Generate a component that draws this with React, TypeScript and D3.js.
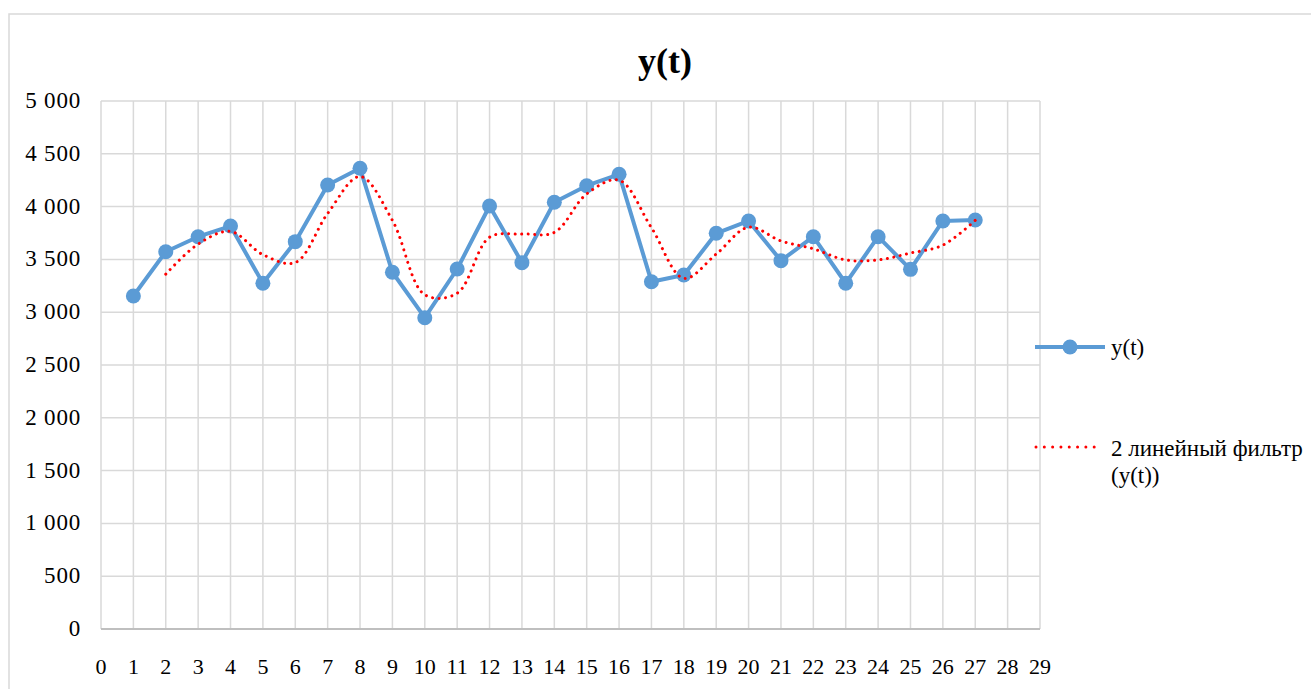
import React from "react";
import * as d3 from "d3";

const tValues: number[] = [1, 2, 3, 4, 5, 6, 7, 8, 9, 10, 11, 12, 13, 14, 15, 16, 17, 18, 19, 20, 21, 22, 23, 24, 25, 26, 27];
const yValues: number[] = [3153, 3573, 3715, 3816, 3274, 3668, 4205, 4363, 3378, 2948, 3409, 4006, 3469, 4041, 4198, 4306, 3289, 3352, 3747, 3864, 3488, 3715, 3274, 3715, 3406, 3864, 3873];
const filterT: number[] = [2, 3, 4, 5, 6, 7, 8, 9, 10, 11, 12, 13, 14, 15, 16, 17, 18, 19, 20, 21, 22, 23, 24, 25, 26, 27];
const filterValues: number[] = [3360, 3645, 3765, 3545, 3470, 3935, 4285, 3870, 3165, 3180, 3710, 3740, 3755, 4120, 4250, 3800, 3320, 3550, 3805, 3675, 3600, 3495, 3495, 3560, 3635, 3870];
const xTicks: number[] = d3.range(0, 30);
const yTicks: number[] = d3.range(0, 5001, 500);
const title = "y(t)";
const legendSeries = "y(t)";
const legendFilter1 = "2 линейный фильтр";
const legendFilter2 = "(y(t))";

const W = 1311;
const H = 689;
const FONT = "Liberation Serif, Times New Roman, serif";

export default function App() {
  const x = d3.scaleLinear().domain([0, 29]).range([101, 1040]);
  const y = d3.scaleLinear().domain([0, 5000]).range([629, 101]);
  const fmt = d3.formatLocale({ thousands: " ", grouping: [3], decimal: ",", currency: ["", ""] }).format(",");

  const mainLine = d3
    .line<number>()
    .x((_, i) => x(tValues[i]))
    .y((d) => y(d));
  const filterLine = d3
    .line<number>()
    .x((_, i) => x(filterT[i]))
    .y((d) => y(d))
    .curve(d3.curveCatmullRom.alpha(0.5));

  const blue = "#5b9bd5";
  const red = "#ff0000";
  const grid = "#d9d9d9";
  const ts: React.CSSProperties = { fontFamily: FONT };

  return (
    <svg
      width={W}
      height={H}
      style={{ position: "absolute", left: 0, top: 0, background: "#fff" }}
    >
      <rect x={9} y={14} width={1400} height={800} fill="#fff" stroke={grid} strokeWidth={1.5} />
      <text x={665} y={73} textAnchor="middle" fontSize={36} fontWeight="bold" fill="#000" style={ts}>
        {title}
      </text>
      {xTicks.map((t) => (
        <line key={"vx" + t} x1={x(t)} x2={x(t)} y1={y(5000)} y2={y(0)} stroke={grid} strokeWidth={1.5} />
      ))}
      {yTicks.map((v) => (
        <line key={"hy" + v} x1={x(0)} x2={x(29)} y1={y(v)} y2={y(v)} stroke={grid} strokeWidth={1.5} />
      ))}
      <line x1={x(0)} x2={x(29)} y1={y(0)} y2={y(0)} stroke="#bfbfbf" strokeWidth={2} />
      {yTicks.map((v) => (
        <text key={"yl" + v} x={81} y={y(v) + 7} textAnchor="end" fontSize={23} letterSpacing={0.8} fill="#000" style={ts}>
          {fmt(v)}
        </text>
      ))}
      {xTicks.map((t) => (
        <text key={"xl" + t} x={x(t)} y={674} textAnchor="middle" fontSize={22} fill="#000" style={ts}>
          {t}
        </text>
      ))}
      <path d={mainLine(yValues) || ""} fill="none" stroke={blue} strokeWidth={4} strokeLinejoin="round" />
      {yValues.map((v, i) => (
        <circle key={"pt" + i} cx={x(tValues[i])} cy={y(v)} r={7.5} fill={blue} />
      ))}
      <path
        d={filterLine(filterValues) || ""}
        fill="none"
        stroke={red}
        strokeWidth={3}
        strokeDasharray="0.01 6.5"
        strokeLinecap="round"
      />
      <line x1={1035} x2={1105} y1={347} y2={347} stroke={blue} strokeWidth={4} />
      <circle cx={1070} cy={347} r={7.5} fill={blue} />
      <text x={1111} y={355} fontSize={23} fill="#000" style={ts}>
        {legendSeries}
      </text>
      <line x1={1036} x2={1101} y1={447} y2={447} stroke={red} strokeWidth={3} strokeDasharray="0.01 8.3" strokeLinecap="round" />
      <text x={1111} y={456} fontSize={23} fill="#000" style={ts}>
        {legendFilter1}
      </text>
      <text x={1111} y={483} fontSize={23} fill="#000" style={ts}>
        {legendFilter2}
      </text>
    </svg>
  );
}
